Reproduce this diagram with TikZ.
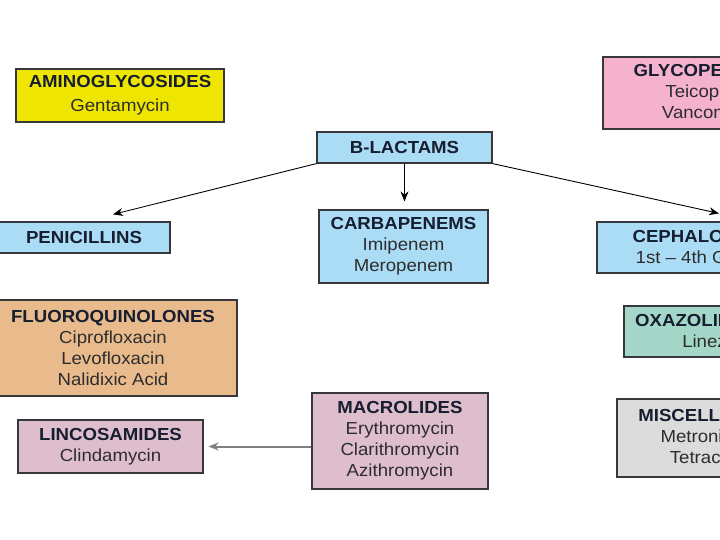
\documentclass[tikz,border=0pt]{standalone}
\usepackage{fontspec}
\setmainfont{Liberation Sans}[FakeStretch=1.07]
\usetikzlibrary{arrows.meta}
\definecolor{boxline}{RGB}{55,55,60}
\definecolor{hdtext}{RGB}{22,30,48}
\definecolor{bodytext}{RGB}{45,45,45}
\definecolor{lblue}{RGB}{170,220,245}
\definecolor{lyellow}{RGB}{238,230,0}
\definecolor{lpink}{RGB}{244,178,205}
\definecolor{lorange}{RGB}{232,186,140}
\definecolor{lmauve}{RGB}{222,190,205}
\definecolor{lteal}{RGB}{165,215,200}
\definecolor{lgray}{RGB}{220,220,220}
\newcommand{\hd}[1]{\textbf{\color{hdtext}#1}}
\begin{document}
\begin{tikzpicture}[x=1pt,y=-1pt,
  box/.style={draw=boxline,line width=1.2pt,align=center,inner sep=0pt,
    font=\fontsize{17.4}{21}\selectfont,text=bodytext},
  arr/.style={-{Stealth[length=10pt,width=8pt]},line width=0.9pt}]
\useasboundingbox (0,0) rectangle (720,540);
\clip (0,0) rectangle (720,540);
\node[box,fill=lyellow,minimum width=208pt,minimum height=53pt] (amino) at (120,95.5) {\hd{AMINOGLYCOSIDES}\\[3pt]Gentamycin};
\node[box,fill=lblue,minimum width=175pt,minimum height=31pt] (blact) at (404.5,147.5) {\hd{B-LACTAMS}};
\node[box,fill=lpink,minimum width=218pt,minimum height=72pt] (glyco) at (712,93) {\hd{GLYCOPEPTIDES}\\Teicoplanin\\Vancomycin};
\node[box,fill=lblue,minimum width=172pt,minimum height=31pt] (penic) at (84,237.5) {\hd{PENICILLINS}};
\node[box,fill=lblue,minimum width=169pt,minimum height=73pt] (carba) at (403.5,246.5) {\hd{CARBAPENEMS}\\Imipenem\\Meropenem};
\node[box,fill=lblue,minimum width=246pt,minimum height=51pt] (cepha) at (720,247.5) {\hd{CEPHALOSPORINS}\\1st -- 4th Generation};
\node[box,fill=lorange,minimum width=248pt,minimum height=96pt] (fluoro) at (113,348) {\hd{FLUOROQUINOLONES}\\Ciprofloxacin\\Levofloxacin\\Nalidixic Acid};
\node[box,fill=lteal,minimum width=190pt,minimum height=51pt] (oxaz) at (719,331.5) {\hd{OXAZOLIDINONES}\\Linezolid};
\node[box,fill=lmauve,minimum width=185pt,minimum height=53pt] (linco) at (110.5,446.5) {\hd{LINCOSAMIDES}\\Clindamycin};
\node[box,fill=lmauve,minimum width=176pt,minimum height=96pt] (macro) at (400,441) {\hd{MACROLIDES}\\Erythromycin\\Clarithromycin\\Azithromycin};
\node[box,fill=lgray,minimum width=204pt,minimum height=78pt] (misc) at (719,438) {\hd{MISCELLANEOUS}\\Metronidazole\\Tetracycline};
\draw[arr] (blact.south west) -- ([shift={(29,-7)}]penic.north);
\draw[arr,shorten >=8pt] (blact.south) -- (blact.south |- carba.north);
\draw[arr] (blact.south east) -- ([shift={(-1,-8)}]cepha.north);
\draw[arr,draw=gray,line width=2pt,shorten >=5pt] (macro.west |- linco.east) -- (linco.east);
\end{tikzpicture}
\end{document}
